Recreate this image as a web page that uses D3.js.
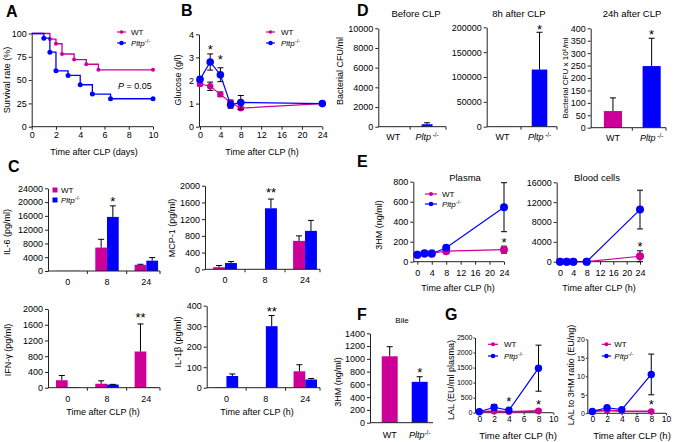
<!DOCTYPE html>
<html>
<head>
<meta charset="utf-8">
<script src="https://cdn.jsdelivr.net/npm/d3@7"></script>
<style>body{margin:0;background:#fff}</style>
</head>
<body>
<script>
const pink = "#cc0099", blue = "#0000ff";

// A - survival (days, %)
const survTimeWT = [0, 1.5, 2, 2.5, 3.5, 4.5, 5.5, 10];
const survWT     = [100, 94, 89, 78, 72, 67, 61, 61];
const survTimeKO = [0, 1, 1.5, 2, 3, 4, 5, 6.5, 10];
const survKO     = [100, 95, 80, 60, 55, 45, 35, 30, 30];
const survXTicks = [0, 2, 4, 6, 8, 10];
const survYTicks = [0, 25, 50, 75, 100];

// B - glucose (g/l)
const glucHours = [0, 2, 4, 6, 8, 24];
const glucWT    = [1.85, 1.75, 1.4, 1.05, 0.8, 1.0];
const glucWTErr = [0.08, 0.18, 0.1, 0.1, 0.05, 0];
const glucKO    = [2.05, 2.8, 2.25, 0.95, 1.05, 1.0];
const glucKOErr = [0.1, 0.35, 0.3, 0.15, 0.3, 0];
const glucXTicks = [0, 4, 8, 12, 16, 20, 24];
const glucYTicks = [0, 1, 2, 3, 4];
const glucStars = [[2, 3.45], [4, 3.05]];

// C - cytokines (pg/ml)
const cytTimes = ["0", "8", "24"];
const groups = ["WT", "Pltp"];
const il6WT = [50, 6800, 1800],  il6WTErr = [0, 2400, 150];
const il6KO = [50, 15700, 3000], il6KOErr = [0, 3200, 900];
const mcpWT = [50, 0, 680],      mcpWTErr = [40, 0, 120];
const mcpKO = [150, 1460, 920],  mcpKOErr = [35, 220, 250];
const ifnWT = [190, 100, 920],   ifnWTErr = [120, 75, 700];
const ifnKO = [15, 80, 10],      ifnKOErr = [0, 5, 0];
const il1WT = [3, 0, 80],        il1WTErr = [0, 0, 32];
const il1KO = [57, 300, 40],     il1KOErr = [10, 52, 5];
const il6Ticks = [0, 4000, 8000, 12000, 16000, 20000, 24000];
const mcpTicks = [0, 400, 800, 1200, 1600, 2000];
const ifnTicks = [0, 400, 800, 1200, 1600, 2000];
const il1Ticks = [0, 100, 200, 300, 400];

// D - bacterial counts
const cfuBefore = [20, 250],     cfuBeforeErr = [0, 150];
const cfu8h     = [500, 115000], cfu8hErr     = [0, 75000];
const cfu24h    = [67, 248],     cfu24hErr    = [53, 112];
const cfuBeforeTicks = [0, 2000, 4000, 6000, 8000, 10000];
const cfu8hTicks     = [0, 50000, 100000, 150000, 200000];
const cfu24hTicks    = [0, 50, 100, 150, 200, 250, 300, 350, 400];

// E - 3HM (ng/ml)
const hmHours = [0, 2, 4, 8, 24];
const hmPlasmaWT = [70, 80, 85, 105, 120],  hmPlasmaWTErr = [0, 0, 0, 0, 35];
const hmPlasmaKO = [70, 85, 80, 140, 545],  hmPlasmaKOErr = [0, 0, 0, 0, 245];
const hmCellsWT  = [0, 0, 0, 0, 1100],      hmCellsWTErr  = [0, 0, 0, 0, 1100];
const hmCellsKO  = [0, 0, 0, 0, 10500],     hmCellsKOErr  = [0, 0, 0, 0, 3900];
const hmXTicks = [0, 4, 8, 12, 16, 20, 24];
const hmPlasmaTicks = [0, 200, 400, 600, 800];
const hmCellsTicks = [0, 4000, 8000, 12000, 16000];

// F - bile 3HM
const bile = [1040, 640], bileErr = [150, 80];
const bileTicks = [0, 200, 400, 600, 800, 1000, 1200, 1400];

// G - LAL
const lalHours = [0, 2, 4, 8];
const lalWT = [30, 50, 30, 60],     lalWTErr = [0, 30, 0, 40];
const lalKO = [30, 180, 80, 1480],  lalKOErr = [0, 90, 0, 765];
const ratioWT = [0.5, 0.8, 0.6, 0.5];
const ratioKO = [0.5, 1.5, 1.0, 10.5], ratioKOErr = [0, 0.4, 0, 5.5];
const lalXTicks = [0, 2, 4, 6, 8, 10];
const lalTicks = [0, 500, 1000, 1500, 2000, 2500];
const ratioTicks = [0, 5, 10, 15, 20];

const fmt = d3.format("d");

const svg = d3.select("body").append("svg")
    .attr("width", 675)
    .attr("height", 442)
    .attr("font-family", "'Liberation Sans', Arial, sans-serif");

function styleAxis(g, fs) {
  g.attr("font-size", fs || 9).attr("font-family", null);
  g.selectAll(".domain, .tick line").attr("stroke", "#222");
  g.selectAll("text").attr("fill", "#000");
  return g;
}

function leftAxis(y, ax, ticks, fs, tick, pad) {
  return styleAxis(svg.append("g")
      .attr("transform", `translate(${ax},0)`)
      .call(d3.axisLeft(y).tickValues(ticks).tickFormat(fmt)
        .tickSize(tick || 3).tickSizeOuter(0).tickPadding(pad || 2)), fs);
}

function koText(sel, space) {
  sel.text(null);
  sel.append("tspan").attr("font-style", "italic").text("Pltp");
  sel.append("tspan").attr("dy", "-0.45em").attr("font-size", "0.7em")
      .text((space ? " " : "") + "-/-");
}

function label(x, y, s, fs, anchor) {
  return svg.append("text").attr("x", x).attr("y", y)
      .attr("font-size", fs || 9)
      .attr("text-anchor", anchor || "middle")
      .text(s);
}

function letter(x, y, s) {
  label(x, y, s, 16, "start").attr("font-weight", "bold");
}

function yLabel(x, y, s, fs) {
  svg.append("text")
      .attr("transform", `translate(${x},${y}) rotate(-90)`)
      .attr("text-anchor", "middle")
      .attr("dy", "0.35em")
      .attr("font-size", fs || 9)
      .text(s);
}

function star(x, y, s) {
  label(x, y + 7.4, s, 13);
}

function linePanel(p) {
  const x = d3.scaleLinear().domain(p.xDomain).range([p.left, p.right]);
  const y = d3.scaleLinear().domain(p.yDomain).range([p.bottom, p.top]);
  leftAxis(y, p.axisX, p.yTicks, p.yFont, p.yTick, p.yPad);
  const gx = styleAxis(svg.append("g")
      .attr("transform", `translate(0,${p.bottom})`)
      .call(d3.axisBottom(x).tickValues(p.xTicks).tickFormat(fmt)
        .tickSize(p.tick || 3).tickSizeOuter(0).tickPadding(p.xPad || 2)), p.xFont);
  gx.select(".domain").attr("d", `M${p.axisX},0H${p.right}`);

  p.series.forEach(s => {
    const pts = s.x.map((v, i) => ({x: v, y: s.y[i], e: s.err ? s.err[i] : 0}));
    const eg = svg.append("g").attr("stroke", "#000").attr("fill", "none");
    pts.filter(d => d.e > 0).forEach(d => {
      const cx = x(d.x), lo = y(d.y - d.e), hi = y(d.y + d.e);
      eg.append("path")
          .attr("d", `M${cx},${lo}V${hi}M${cx - 3},${hi}H${cx + 3}M${cx - 3},${lo}H${cx + 3}`);
    });
    svg.append("path")
        .datum(pts)
        .attr("fill", "none")
        .attr("stroke", s.color)
        .attr("stroke-width", s.lw || 1.2)
        .attr("d", d3.line().x(d => x(d.x)).y(d => y(d.y))
          .curve(s.step ? d3.curveStepAfter : d3.curveLinear));
    svg.append("g")
      .selectAll("circle")
      .data(s.step ? pts.slice(1) : pts)
      .join("circle")
        .attr("cx", d => x(d.x))
        .attr("cy", d => y(d.y))
        .attr("r", s.r)
        .attr("fill", s.color);
  });
  (p.stars || []).forEach(d => star(x(d[0]), y(d[1]), "*"));
}

function barPanel(p) {
  const x0 = d3.scaleBand().domain(p.cats).range([p.left, p.right]);
  const x1 = d3.scaleBand().domain(p.keys).range([0, x0.bandwidth()]).paddingOuter(p.pad);
  const y = d3.scaleLinear().domain(p.yDomain).range([p.bottom, p.top]);
  const rows = p.keys.flatMap((k, j) => p.cats.map((c, i) =>
      ({c, k, v: p.values[j][i], e: p.errs[j][i], fill: p.fill(c, k)})));
  const bx = d => x0(d.c) + x1(d.k);

  svg.append("g")
    .selectAll("rect")
    .data(rows)
    .join("rect")
      .attr("x", bx)
      .attr("width", x1.bandwidth())
      .attr("y", d => y(d.v))
      .attr("height", d => y(0) - y(d.v))
      .attr("fill", d => d.fill);

  const eg = svg.append("g").attr("stroke", "#000").attr("fill", "none");
  rows.filter(d => d.e > 0).forEach(d => {
    const cx = bx(d) + x1.bandwidth() / 2, top = y(d.v + d.e);
    eg.append("path").attr("d", `M${cx},${y(d.v)}V${top}M${cx - 3},${top}H${cx + 3}`);
  });

  leftAxis(y, p.axisX, p.yTicks);
  const gx = styleAxis(svg.append("g")
      .attr("transform", `translate(0,${p.bottom})`)
      .call(d3.axisBottom(x0).tickSize(0).tickSizeOuter(0).tickPadding(p.xPad)));
  gx.select(".domain").attr("d", `M${p.axisX},0H${p.axisEnd || p.right}`);
  gx.selectAll(".tick text").filter(d => d === "Pltp")
      .each(function() { koText(d3.select(this), p.space); });
  if (p.seps) {
    gx.selectAll(".sep")
      .data(p.cats.slice(1).map(c => x0(c)).concat([p.axisEnd || p.right]))
      .join("line")
        .attr("x1", d => d).attr("x2", d => d)
        .attr("y1", 0).attr("y2", 3)
        .attr("stroke", "#222");
  }
  (p.stars || []).forEach(d => {
    const cx = x0(d.c) + x1(d.k) + x1.bandwidth() / 2;
    star(cx, y(d.v), d.t);
  });
}

function lineKey(x1, x2, tx, yy, color, r, ko) {
  svg.append("line").attr("x1", x1).attr("x2", x2).attr("y1", yy).attr("y2", yy)
      .attr("stroke", color).attr("stroke-width", 1.2);
  svg.append("circle").attr("cx", (x1 + x2) / 2).attr("cy", yy).attr("r", r).attr("fill", color);
  const t = label(tx, yy + 3, "WT", 8, "start");
  if (ko) koText(t, false);
}

function boxKey(x, yy, color, ko) {
  svg.append("rect").attr("x", x - 2.5).attr("y", yy - 2.5).attr("width", 5).attr("height", 5)
      .attr("fill", color);
  const t = label(x + 6, yy + 3, "WT", 8, "start");
  if (ko) koText(t, false);
}

// ---------- A ----------
letter(6, 17, "A");
linePanel({
  left: 31.7, right: 153, top: 33.5, bottom: 126.7, axisX: 31.7,
  xDomain: [0, 10], yDomain: [0, 100], xTicks: survXTicks, yTicks: survYTicks,
  series: [
    {x: survTimeWT, y: survWT, color: pink, r: 2, lw: 1.3, step: true},
    {x: survTimeKO, y: survKO, color: blue, r: 2.5, lw: 1.3, step: true}
  ]
});
yLabel(7, 80, "Survival rate (%)");
label(94, 155, "Time after CLP (days)");
lineKey(117, 126, 131, 32, pink, 1.8, false);
lineKey(117, 126, 131, 43, blue, 2.3, true);
const pv = label(118, 89, "", 9, "start");
pv.append("tspan").attr("font-style", "italic").text("P");
pv.append("tspan").text(" = 0.05");

// ---------- B ----------
letter(181, 16, "B");
linePanel({
  left: 200, right: 322.3, top: 34.3, bottom: 126.7, axisX: 199,
  xDomain: [0, 24], yDomain: [0, 4], xTicks: glucXTicks, yTicks: glucYTicks,
  series: [
    {x: glucHours, y: glucWT, err: glucWTErr, color: pink, r: 3.2},
    {x: glucHours, y: glucKO, err: glucKOErr, color: blue, r: 3.8}
  ],
  stars: glucStars
});
yLabel(178, 80, "Glucose (g/l)");
label(262, 155, "Time after CLP (h)");
lineKey(266, 275, 281, 32, pink, 1.8, false);
lineKey(266, 275, 281, 43, blue, 2.3, true);

// ---------- C ----------
letter(8, 172, "C");
const cytFill = (c, k) => k === "WT" ? pink : blue;
barPanel({
  left: 48, right: 166, top: 188.3, bottom: 271, axisX: 48, axisEnd: 160,
  cats: cytTimes, keys: groups, pad: 0.68, xPad: 7.6, seps: true,
  yDomain: [0, 24000], yTicks: il6Ticks,
  values: [il6WT, il6KO], errs: [il6WTErr, il6KOErr], fill: cytFill,
  stars: [{c: "8", k: "Pltp", v: 21100, t: "*"}]
});
yLabel(7, 232, "IL-6 (pg/ml)");
boxKey(55, 190, pink, false);
boxKey(55, 200, blue, true);

barPanel({
  left: 205, right: 325, top: 185.7, bottom: 269.3, axisX: 205, axisEnd: 320,
  cats: cytTimes, keys: groups, pad: 0.68, xPad: 7.6, seps: true,
  yDomain: [0, 2000], yTicks: mcpTicks,
  values: [mcpWT, mcpKO], errs: [mcpWTErr, mcpKOErr], fill: cytFill,
  stars: [{c: "8", k: "Pltp", v: 1900, t: "**"}]
});
yLabel(172, 228, "MCP-1 (pg/ml)");

barPanel({
  left: 48, right: 166, top: 309, bottom: 387.7, axisX: 48, axisEnd: 160,
  cats: cytTimes, keys: groups, pad: 0.68, xPad: 7.5, seps: true,
  yDomain: [0, 2000], yTicks: ifnTicks,
  values: [ifnWT, ifnKO], errs: [ifnWTErr, ifnKOErr], fill: cytFill,
  stars: [{c: "24", k: "WT", v: 1850, t: "**"}]
});
yLabel(8, 350, "IFN-\u03b3 (pg/ml)");
label(103, 415, "Time after CLP (h)");

barPanel({
  left: 206.7, right: 325, top: 305.7, bottom: 387.7, axisX: 206.7, axisEnd: 320,
  cats: cytTimes, keys: groups, pad: 0.68, xPad: 7.5, seps: true,
  yDomain: [0, 400], yTicks: il1Ticks,
  values: [il1WT, il1KO], errs: [il1WTErr, il1KOErr], fill: cytFill,
  stars: [{c: "8", k: "Pltp", v: 385, t: "**"}]
});
yLabel(178, 342, "IL-1\u03b2 (pg/ml)");
label(257, 415, "Time after CLP (h)");

// ---------- D ----------
letter(357, 16, "D");
const cfuFill = c => c === "WT" ? pink : blue;
barPanel({
  left: 376.3, right: 444, top: 28.3, bottom: 126.7, axisX: 378.3, axisEnd: 446,
  cats: groups, keys: ["v"], pad: 1.05, xPad: 7, seps: true, space: true,
  yDomain: [0, 10000], yTicks: cfuBeforeTicks,
  values: [cfuBefore], errs: [cfuBeforeErr], fill: cfuFill
});
yLabel(340, 71, "Bacterial CFU/ml");
label(416, 16.5, "Before CLP", 9.5);

barPanel({
  left: 484, right: 558, top: 27.3, bottom: 126.7, axisX: 486.7, axisEnd: 557,
  cats: groups, keys: ["v"], pad: 0.69, xPad: 7, seps: true, space: true,
  yDomain: [0, 200000], yTicks: cfu8hTicks,
  values: [cfu8h], errs: [cfu8hErr], fill: cfuFill,
  stars: [{c: "Pltp", k: "v", v: 201000, t: "*"}]
});
label(519, 16.5, "8h after CLP", 9.5);

barPanel({
  left: 593.6, right: 671, top: 28.3, bottom: 127.7, axisX: 590.7, axisEnd: 666,
  cats: groups, keys: ["v"], pad: 0.57, xPad: 7, seps: true, space: true,
  yDomain: [0, 400], yTicks: cfu24hTicks,
  values: [cfu24h], errs: [cfu24hErr], fill: cfuFill,
  stars: [{c: "Pltp", k: "v", v: 386, t: "*"}]
});
yLabel(565, 78, "Bacterial CFU x 10\u2076/ml", 8);
label(632, 16.5, "24h after CLP", 9.5);

// ---------- E ----------
letter(357, 167, "E");
linePanel({
  left: 417.3, right: 504, top: 181.7, bottom: 261.7, axisX: 413.3,
  xDomain: [0, 24], yDomain: [0, 800], xTicks: hmXTicks, yTicks: hmPlasmaTicks,
  tick: 3, xPad: 5,
  series: [
    {x: hmHours, y: hmPlasmaWT, err: hmPlasmaWTErr, color: pink, r: 4},
    {x: hmHours, y: hmPlasmaKO, err: hmPlasmaKOErr, color: blue, r: 4}
  ],
  stars: [[24, 217]]
});
yLabel(379, 225, "3HM (ng/ml)");
label(458, 291, "Time after CLP (h)");
label(465, 181, "Plasma", 9.5);
lineKey(425, 437, 442, 194, pink, 2, false);
lineKey(425, 437, 442, 204, blue, 2.3, true);

linePanel({
  left: 560, right: 640, top: 182.3, bottom: 261.7, axisX: 556.7,
  xDomain: [0, 24], yDomain: [0, 16000], xTicks: hmXTicks, yTicks: hmCellsTicks,
  tick: 3, xPad: 5,
  series: [
    {x: hmHours, y: hmCellsWT, err: hmCellsWTErr, color: pink, r: 4},
    {x: hmHours, y: hmCellsKO, err: hmCellsKOErr, color: blue, r: 4}
  ],
  stars: [[24, 3570]]
});
label(599, 291, "Time after CLP (h)");
label(597, 181, "Blood cells", 9.5);

// ---------- F ----------
letter(357, 320, "F");
barPanel({
  left: 374.7, right: 434.7, top: 333.3, bottom: 422.7, axisX: 370, axisEnd: 433,
  cats: groups, keys: ["v"], pad: 0.44, xPad: 9, seps: false, space: false,
  yDomain: [0, 1400], yTicks: bileTicks,
  values: [bile], errs: [bileErr], fill: cfuFill,
  stars: [{c: "Pltp", k: "v", v: 836, t: "*"}]
});
yLabel(338, 382, "3HM (ng/ml)");
label(402, 323, "Bile", 8);

// ---------- G ----------
letter(445, 320, "G");
linePanel({
  left: 479.3, right: 553.3, top: 337.5, bottom: 412.7, axisX: 475,
  xDomain: [0, 10], yDomain: [0, 2500], xTicks: lalXTicks, yTicks: lalTicks,
  tick: 2, xPad: 1, yFont: 7, xFont: 8.5, yTick: 1.5, yPad: 1,
  series: [
    {x: lalHours, y: lalWT, err: lalWTErr, color: pink, r: 3.3, lw: 1.8},
    {x: lalHours, y: lalKO, err: lalKOErr, color: blue, r: 3.7}
  ],
  stars: [[4, 483], [8, 362]]
});
yLabel(451, 380, "LAL (EU/ml plasma)");
label(518, 438.5, "Time after CLP (h)", 9.5);
lineKey(488, 498, 504, 344.3, pink, 2, false);
lineKey(488, 498, 504, 356, blue, 2.3, true);

linePanel({
  left: 592.3, right: 666, top: 339.3, bottom: 413.3, axisX: 587.3,
  xDomain: [0, 10], yDomain: [0, 20], xTicks: lalXTicks, yTicks: ratioTicks,
  tick: 2, xPad: 1, yFont: 7, xFont: 8.5, yTick: 1.5, yPad: 1,
  series: [
    {x: lalHours, y: ratioWT, color: pink, r: 3.3, lw: 1.8},
    {x: lalHours, y: ratioKO, err: ratioKOErr, color: blue, r: 3.7}
  ],
  stars: [[8, 3.1]]
});
yLabel(571, 375, "LAL to 3HM ratio (EU/ng)");
label(632, 438.5, "Time after CLP (h)", 9.5);
lineKey(601.7, 611, 614.3, 344.3, pink, 2, false);
lineKey(601.7, 611, 614.3, 356, blue, 2.3, true);
</script>
</body>
</html>
